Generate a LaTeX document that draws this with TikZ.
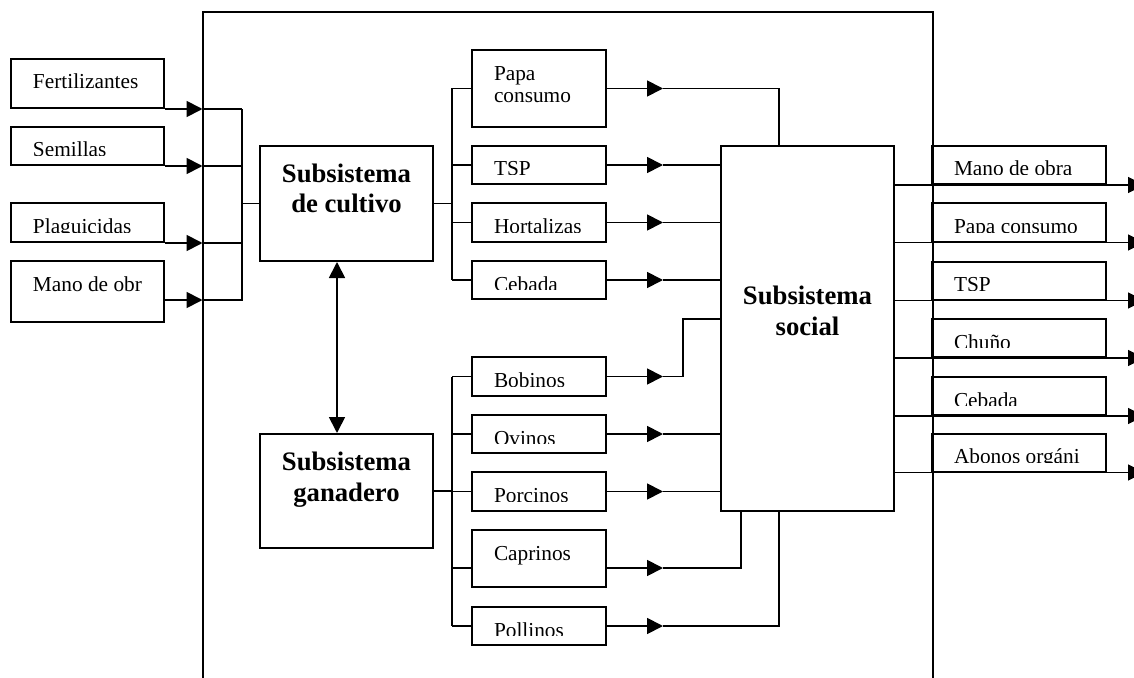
\documentclass[tikz,border=0pt]{standalone}
\usepackage{fontspec}
\setmainfont{Liberation Serif}
\usetikzlibrary{arrows.meta, positioning, calc}
\newcommand{\boxfont}{\fontsize{21.4}{23}\selectfont}
\newcommand{\subsysfont}{\fontsize{26.8}{31}\selectfont\bfseries}

\begin{document}
\begin{tikzpicture}[x=1bp, y=-1bp,
  inbox/.style={draw, line width=2bp, inner sep=0pt, minimum width=153bp},
  midbox/.style={draw, line width=2bp, inner sep=0pt, minimum width=134bp},
  outbox/.style={draw, line width=2bp, inner sep=0pt, minimum width=174bp, minimum height=38bp},
  subbox/.style={draw, line width=2bp, inner sep=0pt, minimum width=173bp},
  plain/.style={draw=none, inner sep=0pt, minimum width=0pt, minimum height=0pt},
  cutat/.style 2 args={path picture={
    \clip ([yshift=9.5bp]path picture bounding box.south west) rectangle (path picture bounding box.north east);
    \node[plain, anchor=base west, align=left, font=\boxfont] at ([shift={(21bp,-#1)}]path picture bounding box.north west) {#2};}},
  cut/.style={cutat={30bp}{#1}},
  subtext/.style 2 args={path picture={
    \node[plain, anchor=base, align=center, font=\subsysfont] at ([yshift=-#1]path picture bounding box.north) {#2};}},
  arr/.style={-{Triangle[length=16bp, width=16bp]}, line width=1.8bp},
  arrboth/.style={{Triangle[length=16bp, width=16bp]}-{Triangle[length=16bp, width=16bp]}, line width=1.8bp},
  link/.style={line width=1.8bp},
  frame/.style={line width=2bp}
]
  \useasboundingbox (0,0) rectangle (1134,678);
  \clip (0,0) rectangle (1134,678);

  % system border, open at the bottom
  \coordinate (sysTL) at (202.5,12);
  \coordinate (sysTR) at (932.5,12);
  \coordinate (sysBL) at (202.5,690);
  \coordinate (sysBR) at (932.5,690);
  \draw[frame] (sysBL) -- (sysTL) -- (sysTR) -- (sysBR);

  % inputs
  \node[inbox, minimum height=49bp, cut={Fertilizantes}] (fert) at (87.5,83.5) {};
  \node[inbox, minimum height=38bp, cut={Semillas}] (semi) at (87.5,146) {};
  \node[inbox, minimum height=39bp, cut={Plaguicidas}] (plag) at (87.5,222.5) {};
  \node[inbox, minimum height=61bp, cut={Mano de obr}] (mano) at (87.5,291.5) {};

  % subsystems
  \node[subbox, minimum height=115bp, subtext={67bp}{Subsistema\\de cultivo}] (cultivo) at (346.5,203.5) {};
  \node[subbox, minimum height=114bp, subtext={67bp}{Subsistema\\ganadero}] (ganadero) at (346.5,491) {};
  \node[subbox, minimum height=365bp, subtext={189bp}{Subsistema\\social}] (social) at (807.5,328.5) {};

  % crop products
  \node[midbox, minimum height=77bp, cutat={53bp}{Papa\\consumo}] (papa) at (539,88.5) {};
  \node[midbox, minimum height=38bp, cut={TSP}] (tsp) at (539,165) {};
  \node[midbox, minimum height=39bp, cut={Hortalizas}] (hort) at (539,222.5) {};
  \node[midbox, minimum height=38bp, cut={Cebada}] (ceba) at (539,280) {};

  % livestock
  \node[midbox, minimum height=39bp, cut={Bobinos}] (bobi) at (539,376.5) {};
  \node[midbox, minimum height=38bp, cut={Ovinos}] (ovin) at (539,434) {};
  \node[midbox, minimum height=39bp, cut={Porcinos}] (porc) at (539,491.5) {};
  \node[midbox, minimum height=57bp, cut={Caprinos}] (capr) at (539,558.5) {};
  \node[midbox, minimum height=38bp, cut={Pollinos}] (poll) at (539,626) {};

  % outputs
  \node[outbox, cut={Mano de obra}] (o1) at (1019,165) {};
  \node[outbox, cut={Papa consumo}] (o2) at (1019,222.5) {};
  \node[outbox, cut={TSP}] (o3) at (1019,280.5) {};
  \node[outbox, cut={Chuño}] (o4) at (1019,338) {};
  \node[outbox, cut={Cebada}] (o5) at (1019,396) {};
  \node[outbox, cut={Abonos orgáni}] (o6) at (1019,452.5) {};

  \coordinate (wall) at (202.5,0);
  \coordinate (busL) at (242,0);
  \coordinate (busC) at (452,0);
  \coordinate (tip) at (663,0);
  \coordinate (jog) at (683,0);
  \coordinate (edge) at (1144,0);

  % inputs into the crop subsystem
  \foreach \n in {fert,semi,plag} {
    \draw[arr] (\n.south east) -- (\n.south east -| wall);
    \draw[link] (\n.south east -| wall) -- (\n.south east -| busL);
  }
  \draw[arr] ([yshift=-8.5bp]mano.east) -- ([yshift=-8.5bp]mano.east -| wall);
  \draw[link] ([yshift=-8.5bp]mano.east -| wall) -- ([yshift=-8.5bp]mano.east -| busL) -- (fert.south east -| busL);
  \draw[link] (cultivo.west) -- (cultivo.west -| busL);

  \draw[arrboth] ([xshift=-9.5bp]cultivo.south) -- ([xshift=-9.5bp]ganadero.north);

  % branches
  \draw[link] (cultivo.east) -- (cultivo.east -| busC);
  \draw[link] (papa.west -| busC) -- (ceba.west -| busC);
  \foreach \n in {papa,tsp,hort,ceba} \draw[link] (\n.west -| busC) -- (\n.west);
  \draw[link] (ganadero.east) -- (ganadero.east -| busC);
  \draw[link] (bobi.west -| busC) -- (poll.west -| busC);
  \foreach \n in {bobi,ovin,porc,poll} \draw[link] (\n.west -| busC) -- (\n.west);
  \draw[link] ([yshift=-9.5bp]capr.west -| busC) -- ([yshift=-9.5bp]capr.west);

  % into the social subsystem
  \foreach \n in {papa,tsp,hort,ceba,bobi,ovin,porc,poll} \draw[arr] (\n.east) -- (\n.east -| tip);
  \draw[arr] ([yshift=-9.5bp]capr.east) -- ([yshift=-9.5bp]capr.east -| tip);
  \draw[link] (papa.east -| tip) -| ([xshift=-28.5bp]social.north);
  \foreach \n in {tsp,hort,ceba,ovin,porc} \draw[link] (\n.east -| tip) -- (\n.east -| social.west);
  \draw[link] (bobi.east -| tip) -- (bobi.east -| jog) |- ([yshift=9.5bp]social.west);
  \draw[link] ([yshift=-9.5bp]capr.east -| tip) -| ([xshift=-66.5bp]social.south);
  \draw[link] (poll.east -| tip) -| ([xshift=-28.5bp]social.south);

  % outputs
  \foreach \n in {o1,o2,o3,o4,o5,o6} \draw[arr] (social.east |- \n.south) -- (\n.south -| edge);
\end{tikzpicture}
\end{document}
